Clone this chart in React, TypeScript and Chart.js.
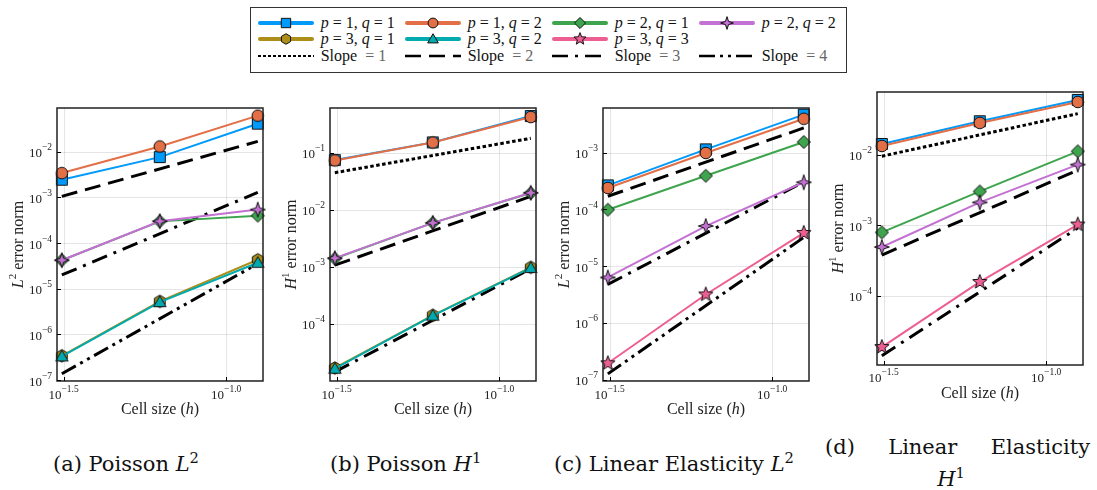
import React, { useEffect, useRef } from 'react';
import { Chart, registerables } from 'chart.js';

Chart.register(...registerables);

// ---------- data ----------
const H = [1 / 32, 1 / 16, 1 / 8];
const H_ENDS = [1 / 32, 1 / 8];
const X_MIN_EXP = -1.52;
const X_MAX_EXP = -0.887;
const X_TICK_EXPS = [-1.5, -1.0];
const X_TICK_SUPS = ['\u22121.5', '\u22121.0'];

// (a) Poisson L2
const A_P1Q1 = [2.43e-3, 7.6e-3, 4.1e-2];
const A_P1Q2 = [3.4e-3, 1.3e-2, 6.15e-2];
const A_P2Q1 = [4.2e-5, 2.98e-4, 3.97e-4];
const A_P2Q2 = [4.2e-5, 3.0e-4, 5.4e-4];
const A_P3Q1 = [3.4e-7, 5.3e-6, 4.3e-5];
const A_P3Q2 = [3.3e-7, 5.1e-6, 3.7e-5];
const A_SLOPE2 = [1.05e-3, 1.68e-2];
const A_SLOPE3 = [2.0e-5, 1.28e-3];
const A_SLOPE4 = [1.38e-7, 3.53e-5];
const A_Y_TICKS = [-2, -3, -4, -5, -6, -7];

// (b) Poisson H1
const B_P1Q1 = [7.4e-2, 0.151, 0.437];
const B_P1Q2 = [7.3e-2, 0.15, 0.42];
const B_P2Q1 = [1.4e-3, 5.9e-3, 1.96e-2];
const B_P2Q2 = [1.42e-3, 5.9e-3, 1.98e-2];
const B_P3Q1 = [1.7e-5, 1.42e-4, 9.8e-4];
const B_P3Q2 = [1.65e-5, 1.4e-4, 9.6e-4];
const B_SLOPE1 = [4.45e-2, 0.178];
const B_SLOPE2 = [1.07e-3, 1.71e-2];
const B_SLOPE3 = [1.45e-5, 9.3e-4];
const B_Y_TICKS = [-1, -2, -3, -4];

// (c) Linear Elasticity L2
const C_P1Q1 = [2.65e-4, 1.14e-3, 4.68e-3];
const C_P1Q2 = [2.38e-4, 9.85e-4, 3.94e-3];
const C_P2Q1 = [9.85e-5, 3.9e-4, 1.54e-3];
const C_P2Q2 = [6.3e-6, 5.08e-5, 3.0e-4];
const C_P3Q3 = [1.94e-7, 3.16e-6, 3.84e-5];
const C_SLOPE2 = [1.7e-4, 2.72e-3];
const C_SLOPE3 = [4.75e-6, 3.04e-4];
const C_SLOPE4 = [1.26e-7, 3.2e-5];
const C_Y_TICKS = [-3, -4, -5, -6, -7];

// (d) Linear Elasticity H1
const D_P1Q1 = [1.41e-2, 2.96e-2, 5.93e-2];
const D_P1Q2 = [1.32e-2, 2.8e-2, 5.55e-2];
const D_P2Q1 = [7.9e-4, 3.0e-3, 1.11e-2];
const D_P2Q2 = [4.9e-4, 2.1e-3, 7.2e-3];
const D_P3Q3 = [1.88e-5, 1.57e-4, 1.02e-3];
const D_SLOPE1 = [9.47e-3, 3.79e-2];
const D_SLOPE2 = [3.77e-4, 6.0e-3];
const D_SLOPE3 = [1.42e-5, 9.1e-4];
const D_Y_TICKS = [-2, -3, -4];

// ---------- styles ----------
const SERIES: Record<string, { p: number; q: number; color: string; shape: string }> = {
  p1q1: { p: 1, q: 1, color: '#009AFA', shape: 'square' },
  p1q2: { p: 1, q: 2, color: '#E36F47', shape: 'circle' },
  p2q1: { p: 2, q: 1, color: '#3EA44E', shape: 'diamond' },
  p2q2: { p: 2, q: 2, color: '#C371D2', shape: 'star4' },
  p3q1: { p: 3, q: 1, color: '#AC8E18', shape: 'hexagon' },
  p3q2: { p: 3, q: 2, color: '#00AAAE', shape: 'triangle' },
  p3q3: { p: 3, q: 3, color: '#ED5E93', shape: 'star5' },
};
const SLOPES: Record<string, { label: string; dash: number[]; legendDash: number[] }> = {
  s1: { label: '1', dash: [3.5, 2.5], legendDash: [3, 2] },
  s2: { label: '2', dash: [16, 8], legendDash: [16, 8] },
  s3: { label: '3', dash: [16, 7, 3, 7], legendDash: [16, 7, 3, 7] },
  s4: { label: '4', dash: [16, 5, 3, 5, 3, 5], legendDash: [16, 5, 3, 5, 3, 5] },
};

const PAD_L = 57, PAD_T = 24, PAD_R = 8, PAD_B = 48;
const PLOT_W = 206, PLOT_H = 273;
const CW = PAD_L + PLOT_W + PAD_R, CH = PAD_T + PLOT_H + PAD_B;

type PanelDef = {
  left: number; top: number; yMin: number; yMax: number; yTicks: number[];
  letter: string; sup: string; xTickDy: number;
  series: [string, number[]][]; slopes: [string, number[]][];
};

const PANELS: PanelDef[] = [
  {
    left: 57, top: 108, yMin: -7.02, yMax: -1.044, yTicks: A_Y_TICKS, letter: 'L', sup: '2', xTickDy: 18,
    series: [['p1q1', A_P1Q1], ['p1q2', A_P1Q2], ['p2q1', A_P2Q1], ['p2q2', A_P2Q2], ['p3q1', A_P3Q1], ['p3q2', A_P3Q2]],
    slopes: [['s2', A_SLOPE2], ['s3', A_SLOPE3], ['s4', A_SLOPE4]],
  },
  {
    left: 330, top: 108, yMin: -4.998, yMax: -0.219, yTicks: B_Y_TICKS, letter: 'H', sup: '1', xTickDy: 18,
    series: [['p1q1', B_P1Q1], ['p1q2', B_P1Q2], ['p2q1', B_P2Q1], ['p2q2', B_P2Q2], ['p3q1', B_P3Q1], ['p3q2', B_P3Q2]],
    slopes: [['s1', B_SLOPE1], ['s2', B_SLOPE2], ['s3', B_SLOPE3]],
  },
  {
    left: 603, top: 108, yMin: -7.025, yMax: -2.214, yTicks: C_Y_TICKS, letter: 'L', sup: '2', xTickDy: 18,
    series: [['p1q1', C_P1Q1], ['p1q2', C_P1Q2], ['p2q1', C_P2Q1], ['p2q2', C_P2Q2], ['p3q3', C_P3Q3]],
    slopes: [['s2', C_SLOPE2], ['s3', C_SLOPE3], ['s4', C_SLOPE4]],
  },
  {
    left: 877, top: 92, yMin: -4.98, yMax: -1.115, yTicks: D_Y_TICKS, letter: 'H', sup: '1', xTickDy: 17,
    series: [['p1q1', D_P1Q1], ['p1q2', D_P1Q2], ['p2q1', D_P2Q1], ['p2q2', D_P2Q2], ['p3q3', D_P3Q3]],
    slopes: [['s1', D_SLOPE1], ['s2', D_SLOPE2], ['s3', D_SLOPE3]],
  },
];

// ---------- marker geometry ----------
function shapePoints(shape: string, s: number): [number, number][] | null {
  const poly = (n: number, r: number): [number, number][] =>
    Array.from({ length: n }, (_, i) => {
      const a = -Math.PI / 2 + (i * 2 * Math.PI) / n;
      return [r * Math.cos(a), r * Math.sin(a)] as [number, number];
    });
  const star = (n: number, ro: number, ri: number): [number, number][] =>
    Array.from({ length: 2 * n }, (_, i) => {
      const r = i % 2 ? ri : ro;
      const a = -Math.PI / 2 + (i * Math.PI) / n;
      return [r * Math.cos(a), r * Math.sin(a)] as [number, number];
    });
  switch (shape) {
    case 'square': {
      const h = 5.5 * s;
      return [[-h, -h], [h, -h], [h, h], [-h, h]];
    }
    case 'diamond': return poly(4, 6.5 * s);
    case 'star4': return star(4, 7.5 * s, 2.6 * s);
    case 'hexagon': return poly(6, 6.2 * s);
    case 'triangle': return poly(3, 7.2 * s).map(([x, y]) => [x, y + 1 * s] as [number, number]);
    case 'star5': return star(5, 7.5 * s, 3.2 * s);
    default: return null;
  }
}
const CIRCLE_R = 5.8;

function makeMarker(shape: string, color: string): HTMLCanvasElement {
  const size = 20;
  const c = document.createElement('canvas');
  c.width = size; c.height = size;
  const ctx = c.getContext('2d')!;
  ctx.translate(size / 2, size / 2);
  ctx.beginPath();
  const pts = shapePoints(shape, 1);
  if (pts) {
    pts.forEach(([x, y], i) => (i ? ctx.lineTo(x, y) : ctx.moveTo(x, y)));
    ctx.closePath();
  } else {
    ctx.arc(0, 0, CIRCLE_R, 0, Math.PI * 2);
  }
  ctx.fillStyle = color;
  ctx.fill();
  ctx.lineWidth = 1;
  ctx.strokeStyle = '#111';
  ctx.stroke();
  return c;
}

// ---------- text helpers ----------
const FF = '"Liberation Serif", "DejaVu Serif", serif';
const TICK_FONT = `13px ${FF}`;
const TICK_SUP = `9.5px ${FF}`;
const TITLE_FONT = `16px ${FF}`;
const TITLE_IT = `italic 16px ${FF}`;
const TITLE_SUP = `11px ${FF}`;

type Piece = { t: string; f: string; dy?: number };
function drawRich(ctx: CanvasRenderingContext2D, pieces: Piece[], x: number, y: number, align: 'left' | 'center' | 'right') {
  const widths = pieces.map((p) => { ctx.font = p.f; return ctx.measureText(p.t).width; });
  const total = widths.reduce((a, b) => a + b, 0);
  let cx = align === 'left' ? x : align === 'center' ? x - total / 2 : x - total;
  ctx.textAlign = 'left';
  ctx.textBaseline = 'alphabetic';
  pieces.forEach((p, i) => {
    ctx.font = p.f;
    ctx.fillText(p.t, cx, y + (p.dy || 0));
    cx += widths[i];
  });
}

function makeDecor(def: PanelDef) {
  return {
    id: 'decor',
    beforeDatasetsDraw(chart: any) {
      const { ctx, chartArea: a, scales } = chart;
      ctx.save();
      ctx.strokeStyle = 'rgba(0,0,0,0.1)';
      ctx.lineWidth = 1;
      ctx.beginPath();
      for (const e of def.yTicks) {
        const y = Math.round(scales.y.getPixelForValue(Math.pow(10, e))) + 0.5;
        ctx.moveTo(a.left, y); ctx.lineTo(a.right, y);
      }
      for (const e of X_TICK_EXPS) {
        const x = Math.round(scales.x.getPixelForValue(Math.pow(10, e))) + 0.5;
        ctx.moveTo(x, a.top); ctx.lineTo(x, a.bottom);
      }
      ctx.stroke();
      ctx.restore();
    },
    afterDatasetsDraw(chart: any) {
      const { ctx, chartArea: a, scales } = chart;
      ctx.save();
      ctx.strokeStyle = '#222';
      ctx.lineWidth = 1.5;
      ctx.strokeRect(a.left, a.top, a.right - a.left, a.bottom - a.top);
      ctx.strokeStyle = '#000';
      ctx.lineWidth = 1;
      ctx.beginPath();
      for (const e of def.yTicks) {
        const y = Math.round(scales.y.getPixelForValue(Math.pow(10, e))) + 0.5;
        ctx.moveTo(a.left, y); ctx.lineTo(a.left + 4, y);
      }
      for (const e of X_TICK_EXPS) {
        const x = Math.round(scales.x.getPixelForValue(Math.pow(10, e))) + 0.5;
        ctx.moveTo(x, a.bottom); ctx.lineTo(x, a.bottom - 4);
      }
      ctx.stroke();

      ctx.fillStyle = '#222';
      for (const e of def.yTicks) {
        const y = scales.y.getPixelForValue(Math.pow(10, e));
        drawRich(ctx, [{ t: '10', f: TICK_FONT }, { t: '\u2212' + Math.abs(e), f: TICK_SUP, dy: -7 }], a.left - 5, y + 5.5, 'right');
      }
      X_TICK_EXPS.forEach((e, i) => {
        const x = scales.x.getPixelForValue(Math.pow(10, e));
        drawRich(ctx, [{ t: '10', f: TICK_FONT }, { t: X_TICK_SUPS[i], f: TICK_SUP, dy: -7 }], x, a.bottom + def.xTickDy, 'center');
      });
      drawRich(ctx, [{ t: 'Cell size (', f: TITLE_FONT }, { t: 'h', f: TITLE_IT }, { t: ')', f: TITLE_FONT }],
        (a.left + a.right) / 2, a.bottom + 32.5, 'center');
      ctx.translate(a.left - 34, (a.top + a.bottom) / 2);
      ctx.rotate(-Math.PI / 2);
      drawRich(ctx, [{ t: def.letter, f: TITLE_IT }, { t: def.sup, f: TITLE_SUP, dy: -7 }, { t: ' error norm', f: TITLE_FONT }], 0, 0, 'center');
      ctx.restore();
    },
  };
}

function Panel({ def }: { def: PanelDef }) {
  const ref = useRef<HTMLCanvasElement>(null);
  useEffect(() => {
    const canvas = ref.current!;
    const n = def.series.length;
    const datasets: any[] = [];
    def.slopes.forEach(([key, vals]) => {
      datasets.push({
        data: H_ENDS.map((x, i) => ({ x, y: vals[i] })),
        borderColor: '#000', borderWidth: 3, borderDash: SLOPES[key].dash, borderCapStyle: 'butt',
        pointRadius: 0, tension: 0, fill: false, order: 100,
      });
    });
    def.series.forEach(([key, vals], i) => {
      const s = SERIES[key];
      datasets.push({
        data: H.map((x, j) => ({ x, y: vals[j] })),
        borderColor: s.color, backgroundColor: s.color, borderWidth: 2,
        pointStyle: makeMarker(s.shape, s.color), pointRadius: 6, tension: 0, fill: false,
        order: n - i, clip: false,
      });
    });
    const chart = new Chart(canvas, {
      type: 'line',
      data: { datasets },
      options: {
        animation: false, responsive: false, maintainAspectRatio: false, events: [],
        layout: { padding: { left: PAD_L, top: PAD_T, right: PAD_R, bottom: PAD_B } },
        scales: {
          x: { type: 'logarithmic', display: false, min: Math.pow(10, X_MIN_EXP), max: Math.pow(10, X_MAX_EXP) },
          y: { type: 'logarithmic', display: false, min: Math.pow(10, def.yMin), max: Math.pow(10, def.yMax) },
        },
        plugins: { legend: { display: false }, tooltip: { enabled: false } },
      } as any,
      plugins: [makeDecor(def) as any],
    });
    return () => chart.destroy();
  }, []);
  return (
    <canvas ref={ref} width={CW} height={CH}
      style={{ position: 'absolute', left: def.left - PAD_L, top: def.top - PAD_T, width: CW, height: CH }} />
  );
}

// ---------- legend ----------
function Swatch({ color, shape, dash, width }: { color: string; shape?: string; dash?: number[]; width: number }) {
  const pts = shape ? shapePoints(shape, 0.85) : null;
  return (
    <svg width={56} height={16} style={{ position: 'absolute', left: 0, top: 0, overflow: 'visible' }}>
      <line x1={dash ? 0 : 2} y1={8} x2={dash ? 56 : 54} y2={8} stroke={color} strokeWidth={width}
        strokeLinecap={dash ? 'butt' : 'round'} strokeDasharray={dash ? dash.join(' ') : undefined} />
      {shape && (pts
        ? <polygon points={pts.map(([x, y]) => `${(28 + x).toFixed(2)},${(8 + y).toFixed(2)}`).join(' ')} fill={color} stroke="#111" strokeWidth={1} />
        : <circle cx={28} cy={8} r={CIRCLE_R * 0.85} fill={color} stroke="#111" strokeWidth={1} />)}
    </svg>
  );
}

const LEGEND_ROWS: string[][] = [
  ['p1q1', 'p1q2', 'p2q1', 'p2q2'],
  ['p3q1', 'p3q2', 'p3q3'],
  ['s1', 's2', 's3', 's4'],
];
const ROW_Y = [23.3, 39.3, 56];

function Legend() {
  const items: React.ReactNode[] = [];
  LEGEND_ROWS.forEach((row, r) => {
    row.forEach((key, c) => {
      const lx = 257.7 + 147 * c;
      const y = ROW_Y[r];
      const s = SERIES[key];
      const sl = SLOPES[key];
      items.push(
        <div key={key + 'sw'} style={{ position: 'absolute', left: lx, top: y - 8, width: 56, height: 16 }}>
          {s ? <Swatch color={s.color} shape={s.shape} width={4} /> : <Swatch color="#000" dash={sl.legendDash} width={key === 's1' ? 2 : 2.6} />}
        </div>
      );
      items.push(
        <div key={key + 'tx'} style={{
          position: 'absolute', left: lx + 63, top: y - 9, height: 18, lineHeight: '18px',
          fontFamily: FF, fontSize: 16, color: '#111', whiteSpace: 'nowrap',
        }}>
          {s ? (<span><i>p</i> = {s.p}, <i>q</i> = {s.q}</span>)
            : (<span>Slope&nbsp; <span style={{ color: '#666' }}>= {sl.label}</span></span>)}
        </div>
      );
    });
  });
  return (
    <>
      <div style={{ position: 'absolute', left: 250, top: 7, width: 597, height: 66, border: '1px solid #333', boxSizing: 'border-box' }} />
      {items}
    </>
  );
}

// ---------- captions ----------
const CAP_FONT = '"DejaVu Serif", serif';
const capStyle = (left: number, top: number): React.CSSProperties => ({
  position: 'absolute', left, top, fontFamily: CAP_FONT, fontSize: 21, lineHeight: '21px', color: '#111', whiteSpace: 'nowrap',
});
const Sup = ({ children }: { children: React.ReactNode }) => (
  <span style={{ fontSize: '0.7em', position: 'relative', top: '-0.55em' }}>{children}</span>
);

function Captions() {
  return (
    <>
      <div style={capStyle(53, 454)}>(a) Poisson <i>L</i><Sup>2</Sup></div>
      <div style={capStyle(330, 454)}>(b) Poisson <i>H</i><Sup>1</Sup></div>
      <div style={capStyle(554, 454)}>(c) Linear Elasticity <i>L</i><Sup>2</Sup></div>
      <div style={{ ...capStyle(825, 437), width: 265, display: 'flex', justifyContent: 'space-between' }}>
        <span>(d)</span><span>Linear</span><span>Elasticity</span>
      </div>
      <div style={{ ...capStyle(928, 469), width: 46, textAlign: 'center' }}><i>H</i><Sup>1</Sup></div>
    </>
  );
}

export default function App() {
  return (
    <div style={{ position: 'absolute', left: 0, top: 0, width: 1097, height: 490, background: '#fff', overflow: 'hidden' }}>
      <Legend />
      {PANELS.map((d, i) => <Panel key={i} def={d} />)}
      <Captions />
    </div>
  );
}
